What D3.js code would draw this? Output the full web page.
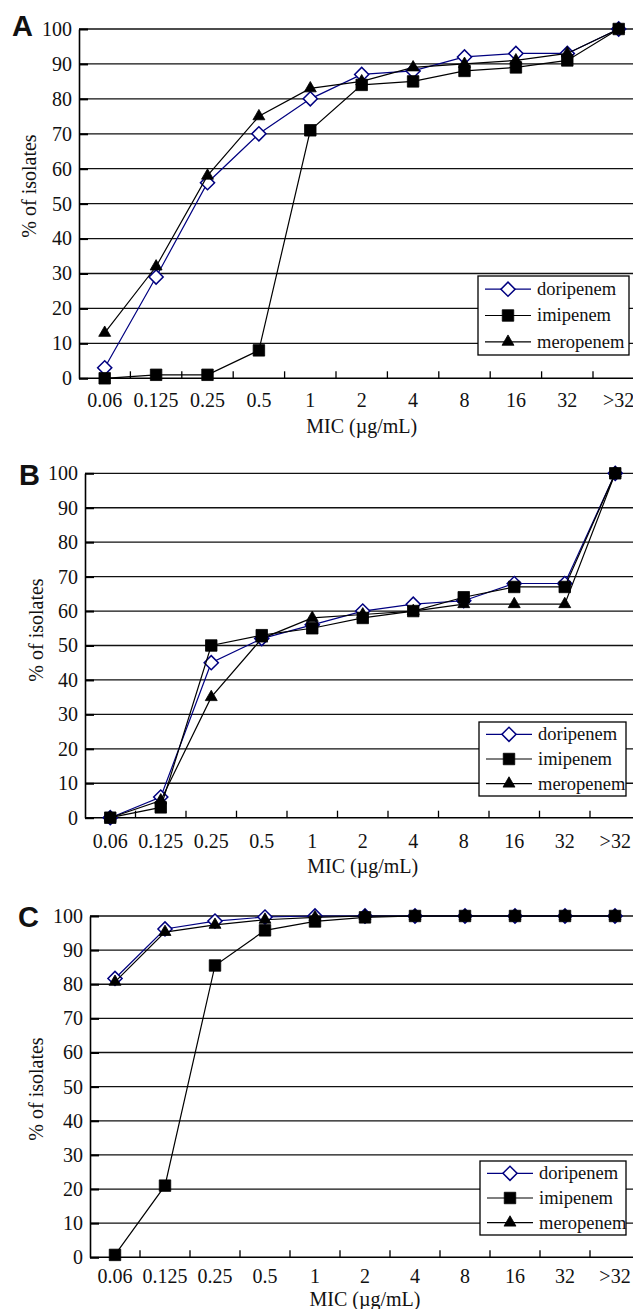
<!DOCTYPE html>
<html>
<head>
<meta charset="utf-8">
<script src="https://cdn.jsdelivr.net/npm/d3@7"></script>
<style>
  body { margin: 0; background: #fff; }
  svg text { font-family: "Liberation Serif", "Times New Roman", serif; fill: #111; }
  svg text.panel-letter { font-family: "Liberation Sans", Arial, sans-serif; font-weight: bold; }
</style>
</head>
<body>
<div id="wrapper"></div>
<script>
// data
const micLabels = ["0.06", "0.125", "0.25", "0.5", "1", "2", "4", "8", "16", "32", ">32"];
const yTicks = [0, 10, 20, 30, 40, 50, 60, 70, 80, 90, 100];
const drugNames = ["doripenem", "imipenem", "meropenem"];

const doripenemA = [3, 29, 56, 70, 80, 87, 88, 92, 93, 93, 100];
const imipenemA  = [0, 1, 1, 8, 71, 84, 85, 88, 89, 91, 100];
const meropenemA = [13, 32, 58, 75, 83, 85, 89, 90, 91, 93, 100];

const doripenemB = [0, 6, 45, 52, 56, 60, 62, 63, 68, 68, 100];
const imipenemB  = [0, 3, 50, 53, 55, 58, 60, 64, 67, 67, 100];
const meropenemB = [0, 5, 35, 52, 58, 59, 60, 62, 62, 62, 100];

const doripenemC = [81.7, 96.2, 98.5, 99.7, 100, 100, 100, 100, 100, 100, 100];
const imipenemC  = [0.7, 21, 85.5, 95.8, 98.4, 99.6, 100, 100, 100, 100, 100];
const meropenemC = [80.7, 95.3, 97.4, 98.9, 99.6, 100, 100, 100, 100, 100, 100];

const serif = '"Liberation Serif", "Times New Roman", serif';

// styles per drug, in legend order
const drugStyles = {
  doripenem: { line: "#000080", symbol: "diamond", fill: "#fff", stroke: "#000080" },
  imipenem:  { line: "#000", symbol: "square", fill: "#000", stroke: "#000" },
  meropenem: { line: "#000", symbol: "triangle", fill: "#000", stroke: "#000" }
};
// draw order (later on top)
const drawOrder = ["doripenem", "meropenem", "imipenem"];

const panels = [
  {
    letter: "A", values: { doripenem: doripenemA, imipenem: imipenemA, meropenem: meropenemA },
    left: 79, step: 51.4, top: 29, bottom: 378.3,
    letterX: 12, letterY: 36, xLabelDy: 29, titleDy: 55, yTitleX: 36, yTitleY: 186,
    legend: { x: 478, y: 276, w: 151, h: 79 }
  },
  {
    letter: "B", values: { doripenem: doripenemB, imipenem: imipenemB, meropenem: meropenemB },
    left: 85, step: 50.5, top: 473.3, bottom: 817.7,
    letterX: 19, letterY: 485, xLabelDy: 30, titleDy: 55, yTitleX: 43, yTitleY: 630,
    legend: { x: 479, y: 722, w: 147, h: 74 }
  },
  {
    letter: "C", values: { doripenem: doripenemC, imipenem: imipenemC, meropenem: meropenemC },
    left: 90, step: 50, top: 916, bottom: 1257.3,
    letterX: 18, letterY: 927, xLabelDy: 26, titleDy: 49, yTitleX: 43, yTitleY: 1089,
    legend: { x: 480, y: 1161, w: 146, h: 74 }
  }
];

const width = 633;
const height = 1309;

const svg = d3.select("#wrapper")
  .append("svg")
    .attr("width", width)
    .attr("height", height);

const symbolGen = {
  diamond: d3.symbol(d3.symbolSquare, 100),
  square: d3.symbol(d3.symbolSquare, 132),
  triangle: d3.symbol(d3.symbolTriangle, 62)
};

function drawMarker(g, name, x, y) {
  const s = drugStyles[name];
  g.append("path")
    .attr("d", symbolGen[s.symbol]())
    .attr("transform", `translate(${x},${y})` + (s.symbol === "diamond" ? " rotate(45)" : ""))
    .attr("fill", s.fill)
    .attr("stroke", s.stroke)
    .attr("stroke-width", s.symbol === "diamond" ? 1.5 : 0.8);
}

panels.forEach(p => {
  const g = svg.append("g");

  const xScale = d3.scaleBand()
    .domain(micLabels)
    .range([p.left, p.left + p.step * micLabels.length])
    .padding(0);
  const cx = c => xScale(c) + xScale.bandwidth() / 2;

  const yScale = d3.scaleLinear()
    .domain([0, 100])
    .range([p.bottom, p.top]);

  // gridlines
  g.append("g")
    .selectAll("line")
    .data(yTicks.filter(d => d > 0))
    .join("line")
      .attr("x1", p.left)
      .attr("x2", width + 20)
      .attr("y1", d => yScale(d))
      .attr("y2", d => yScale(d))
      .attr("stroke", "#111")
      .attr("stroke-width", 1.3);

  // y axis
  const yAxis = g.append("g")
    .attr("transform", `translate(${p.left},0)`)
    .call(d3.axisLeft(yScale).tickValues(yTicks).tickSize(-9).tickSizeOuter(0).tickPadding(7));
  yAxis.attr("font-family", null).attr("font-size", null);
  yAxis.select(".domain").attr("stroke", "#000").attr("stroke-width", 1.6);
  yAxis.selectAll(".tick line").attr("stroke", "#000").attr("stroke-width", 2);
  yAxis.selectAll("text")
    .style("font-family", serif)
    .style("font-size", "20px")
    .attr("fill", "#111");

  // x axis
  const xAxis = g.append("g")
    .attr("transform", `translate(0,${p.bottom})`)
    .call(d3.axisBottom(xScale).tickSize(0).tickSizeOuter(0));
  xAxis.attr("font-family", null).attr("font-size", null);
  xAxis.select(".domain").remove();
  xAxis.selectAll("text")
    .attr("y", p.xLabelDy)
    .attr("dy", 0)
    .style("font-family", serif)
    .style("font-size", "20px")
    .attr("fill", "#111");

  g.append("line")
    .attr("x1", p.left)
    .attr("x2", width + 20)
    .attr("y1", p.bottom)
    .attr("y2", p.bottom)
    .attr("stroke", "#000")
    .attr("stroke-width", 1.6);

  // boundary ticks pointing up
  g.append("g")
    .selectAll("line")
    .data(micLabels.slice(1))
    .join("line")
      .attr("x1", d => xScale(d))
      .attr("x2", d => xScale(d))
      .attr("y1", p.bottom)
      .attr("y2", p.bottom - 7)
      .attr("stroke", "#000")
      .attr("stroke-width", 1.3);

  // series
  const lineGen = d3.line()
    .x((d, i) => cx(micLabels[i]))
    .y(d => yScale(d));

  drawOrder.forEach(name => {
    const vals = p.values[name];
    const sg = g.append("g");
    sg.append("path")
      .attr("d", lineGen(vals))
      .attr("fill", "none")
      .attr("stroke", drugStyles[name].line)
      .attr("stroke-width", 1.2);
    vals.forEach((v, i) => drawMarker(sg, name, cx(micLabels[i]), yScale(v)));
  });

  // legend
  const lg = g.append("g").attr("transform", `translate(${p.legend.x},${p.legend.y})`);
  lg.append("rect")
    .attr("width", p.legend.w)
    .attr("height", p.legend.h)
    .attr("fill", "#fff")
    .attr("stroke", "#000")
    .attr("stroke-width", 1.3);
  const rowH = p.legend.h / drugNames.length;
  drugNames.forEach((name, i) => {
    const ry = rowH * (i + 0.5);
    lg.append("line")
      .attr("x1", 7)
      .attr("x2", 53)
      .attr("y1", ry)
      .attr("y2", ry)
      .attr("stroke", drugStyles[name].line)
      .attr("stroke-width", 1.2);
    drawMarker(lg, name, 30, ry);
    lg.append("text")
      .attr("x", 59)
      .attr("y", ry)
      .attr("dy", "0.32em")
      .style("font-family", serif)
      .style("font-size", "18.5px")
      .text(name);
  });

  // titles
  g.append("text")
    .attr("x", (p.left + p.left + p.step * micLabels.length) / 2)
    .attr("y", p.bottom + p.titleDy)
    .attr("text-anchor", "middle")
    .style("font-family", serif)
    .style("font-size", "20px")
    .text("MIC (µg/mL)");

  g.append("text")
    .attr("transform", `translate(${p.yTitleX},${p.yTitleY}) rotate(-90)`)
    .attr("text-anchor", "middle")
    .style("font-family", serif)
    .style("font-size", "20px")
    .text("% of isolates");

  g.append("text")
    .attr("class", "panel-letter")
    .attr("x", p.letterX)
    .attr("y", p.letterY)
    .style("font-size", "29px")
    .text(p.letter);
});
</script>
</body>
</html>
